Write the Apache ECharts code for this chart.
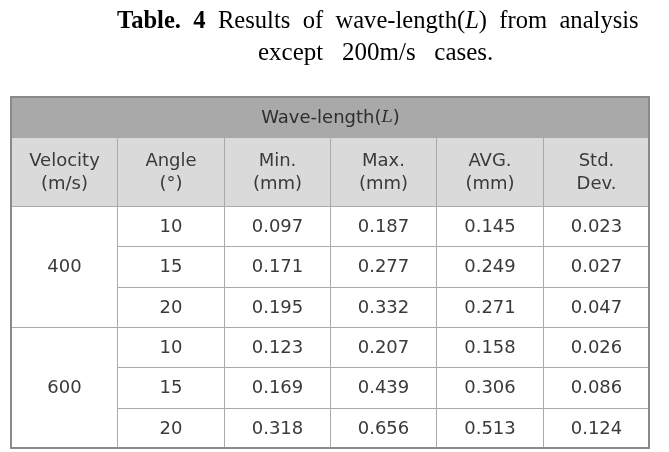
<!DOCTYPE html>
<html>
<head>
<meta charset="utf-8">
<script src="https://cdn.jsdelivr.net/npm/echarts@6/dist/echarts.min.js"></script>
<style>
html,body{margin:0;padding:0;background:#fff;}
#chart{width:669px;height:452px;}
</style>
</head>
<body>
<div id="chart"></div>
<script>
// ---- data ----
const captionLine1 = '{b|Table.}  {b|4}  Results  of  wave-length({i|L})  from  analysis';
const captionLine2 = 'except   200m/s   cases.';
const tableTitle = ['Wave-length(', 'L', ')'];
const columnHeaders = [['Velocity', '(m/s)'], ['Angle', '(°)'], ['Min.', '(mm)'], ['Max.', '(mm)'], ['AVG.', '(mm)'], ['Std.', 'Dev.']];
const velocities = [400, 600];
const angles = [10, 15, 20];
const minVals = [0.097, 0.171, 0.195, 0.123, 0.169, 0.318];
const maxVals = [0.187, 0.277, 0.332, 0.207, 0.439, 0.656];
const avgVals = [0.145, 0.249, 0.271, 0.158, 0.306, 0.513];
const stdVals = [0.023, 0.027, 0.047, 0.026, 0.086, 0.124];

// ---- layout weights (row heights in units) ----
const titleRowH = 1.0;
const headRowH = 1.7;
const dataRowH = 1.0;
const nCols = columnHeaders.length;
const dataTop = titleRowH + headRowH;
const totalH = dataTop + velocities.length * angles.length * dataRowH;

const cells = [];
cells.push({x: 0, y: 0, w: nCols, h: titleRowH, kind: 'title',
  text: '{t|' + tableTitle[0] + '}{ti|' + tableTitle[1] + '}{t|' + tableTitle[2] + '}'});
columnHeaders.forEach((h, i) => {
  cells.push({x: i, y: titleRowH, w: 1, h: headRowH, kind: 'head', text: h.join('\n')});
});
const valueCols = [minVals, maxVals, avgVals, stdVals];
velocities.forEach((v, vi) => {
  cells.push({x: 0, y: dataTop + vi * angles.length, w: 1, h: angles.length, kind: 'data', text: String(v)});
  angles.forEach((a, ai) => {
    const r = vi * angles.length + ai;
    const y = dataTop + r;
    cells.push({x: 1, y: y, w: 1, h: dataRowH, kind: 'data', text: String(a)});
    valueCols.forEach((arr, ci) => {
      cells.push({x: 2 + ci, y: y, w: 1, h: dataRowH, kind: 'data', text: arr[r].toFixed(3)});
    });
  });
});
cells.push({x: 0, y: 0, w: nCols, h: totalH, kind: 'border', text: ''});

const fills = {title: '#a9a9a9', head: '#dadada', data: '#ffffff', border: 'none'};
const strokes = {title: '#8e8e8e', head: '#aaaaaa', data: '#aaaaaa', border: '#8a8a8a'};
const cellFont = 'DejaVu Sans';

function renderItem(params, api) {
  const c = cells[params.dataIndex];
  const p0 = api.coord([c.x, c.y]);
  const p1 = api.coord([c.x + c.w, c.y + c.h]);
  const x0 = Math.round(Math.min(p0[0], p1[0]));
  const x1 = Math.round(Math.max(p0[0], p1[0]));
  const y0 = Math.round(Math.min(p0[1], p1[1]));
  const y1 = Math.round(Math.max(p0[1], p1[1]));
  const children = [];
  if (c.kind === 'border') {
    children.push({type: 'rect', shape: {x: x0, y: y0, width: x1 - x0, height: y1 - y0},
      style: {fill: 'none', stroke: strokes.border, lineWidth: 2}});
    return {type: 'group', children: children};
  }
  children.push({type: 'rect', shape: {x: x0 + 0.5, y: y0 + 0.5, width: x1 - x0, height: y1 - y0},
    style: {fill: fills[c.kind], stroke: strokes[c.kind], lineWidth: 1}});
  children.push({type: 'text', style: {
    x: (x0 + x1) / 2 + 0.5, y: (y0 + y1) / 2 + 1,
    text: c.text, align: 'center', verticalAlign: 'middle',
    fontFamily: cellFont, fontSize: 18, lineHeight: 23, fill: '#3a3a3a',
    rich: {
      t: {fontFamily: cellFont, fontSize: 18, fill: '#2e2e2e'},
      ti: {fontFamily: 'DejaVu Serif', fontStyle: 'italic', fontSize: 17, fill: '#2e2e2e'}
    }
  }});
  return {type: 'group', children: children};
}

const chart = echarts.init(document.getElementById('chart'), null, {renderer: 'canvas'});
chart.setOption({
  backgroundColor: '#ffffff',
  animation: false,
  grid: {left: 11, top: 97, right: 20, bottom: 4, show: false},
  xAxis: {type: 'value', min: 0, max: nCols, show: false},
  yAxis: {type: 'value', min: 0, max: totalH, inverse: true, show: false},
  graphic: [
    {type: 'text', x: 117, y: 9, style: {
      text: captionLine1, fontFamily: 'Liberation Serif', fontSize: 24.6, fill: '#000',
      rich: {
        b: {fontFamily: 'Liberation Serif', fontSize: 24.6, fontWeight: 'bold', fill: '#000'},
        i: {fontFamily: 'Liberation Serif', fontSize: 24.6, fontStyle: 'italic', fill: '#000'}
      }
    }},
    {type: 'text', x: 258, y: 41, style: {
      text: captionLine2, fontFamily: 'Liberation Serif', fontSize: 25, fill: '#000'
    }}
  ],
  series: [{
    type: 'custom',
    coordinateSystem: 'cartesian2d',
    renderItem: renderItem,
    data: cells.map(c => [c.x, c.y, c.w, c.h]),
    encode: {x: 0, y: 1},
    silent: true,
    clip: false
  }]
});
</script>
</body>
</html>
